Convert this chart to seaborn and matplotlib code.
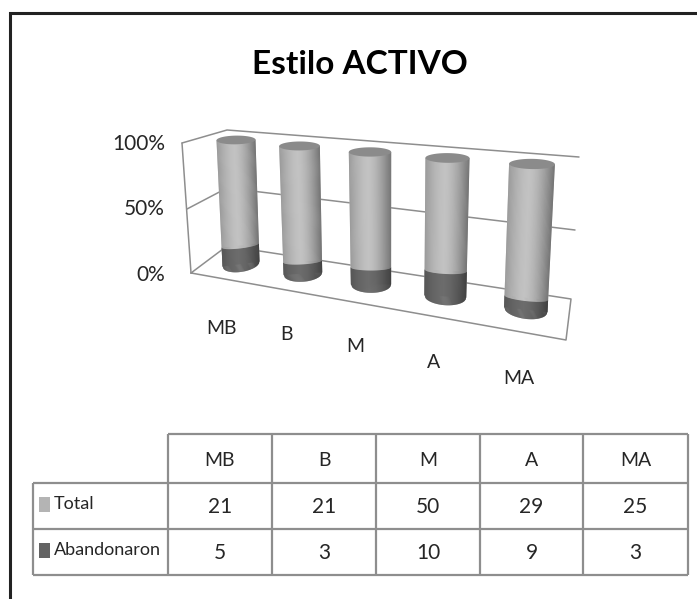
import numpy as np
import seaborn as sns
import matplotlib
matplotlib.use("Agg")
import matplotlib.pyplot as plt
from matplotlib.transforms import Transform

categories = ["MB", "B", "M", "A", "MA"]
total = [21, 21, 50, 29, 25]
abandonaron = [5, 3, 10, 9, 3]
pct_ticks = ["100%", "50%", "0%"]
series_names = ["Total", "Abandonaron"]

LIGHT = "#c6c6c6"
DARK = "#6e6e6e"
CAP = "#8b8b8b"
GRID = "#8e8e8e"
TXT = "#262626"

sns.set_theme(style="white")
plt.rcParams["font.family"] = ["Lato", "DejaVu Sans"]


# perspective of the fake 3d box: column number + height -> picture pixels
class Persp(Transform):
    input_dims = 2
    output_dims = 2

    def transform_non_affine(self, xy):
        xy = np.asarray(xy, dtype=float)
        j = np.round(xy[:, 0])
        u = (xy[:, 0] - j) / 0.4
        v = xy[:, 1] / 100
        f = v / (v + 1.35 * (1 - v))
        bx = 241 + 58.8 * j + 3.1 * j**2
        tx = 236 + 60 * j + 3.5 * j**2
        by = 264 + 9 * j + 0.6 * j**2
        ty = 140 + 6 * j
        bw = 18.5 + 0.8 * j
        tw = 19.5 + 0.85 * j
        px = bx + (tx - bx) * f + u * (bw + (tw - bw) * f)
        py = by + (ty - by) * f + u * (-2.5 + 1.25 * j) * (1 - 0.85 * f)
        return np.column_stack([px, py])


def shade(col, u):
    # darker to both sides, brightest a little left of the middle
    a = 0.02 + (0.2 if u < -0.1 else 0.4) * (abs(u + 0.1) / (0.9 if u < -0.1 else 1.1)) ** 1.6
    return tuple(c * (1 - a) for c in matplotlib.colors.to_rgb(col))


fig = plt.figure(figsize=(6.97, 5.99), dpi=100)
ax = fig.add_axes([0, 0, 1, 1])

share = [100 * a / (t + a) for t, a in zip(total, abandonaron)]
sns.barplot(x=categories, y=[100] * 5, color=LIGHT, saturation=1, width=0.8, ax=ax, zorder=2)
sns.barplot(x=categories, y=share, color=DARK, saturation=1, width=0.8, ax=ax, zorder=2.2)

tr = Persp() + ax.transData
for bars in ax.containers:
    for b in bars:
        b.set_transform(tr)
        b.set_clip_on(False)
        b.set_linewidth(0)

t = np.linspace(0, 2 * np.pi, 60)
edges = np.linspace(-0.4, 0.4, 41)
for j, s in enumerate(share):
    # strips across the cylinder, curved at the bottom and at the colour change
    for d0, d1 in zip(edges[:-1], edges[1:]):
        d2 = min(d1 + 0.01, 0.4)
        u = (d0 + d1) / 2 / 0.4
        arc0 = np.sqrt(max(1 - (d0 / 0.4) ** 2, 0))
        arc2 = np.sqrt(max(1 - (d2 / 0.4) ** 2, 0))
        xs = [j + d0, j + d2, j + d2, j + d0]
        ax.fill(xs, [-8.8 * arc0, -8.8 * arc2, s - 3 * arc2, s - 3 * arc0], color=shade(DARK, u),
                lw=0, transform=tr, zorder=2.4, clip_on=False)
        ax.fill(xs, [s - 3 * arc0, s - 3 * arc2, 100, 100], color=shade(LIGHT, u),
                lw=0, transform=tr, zorder=2.4, clip_on=False)
    ax.fill(j + 0.4 * np.cos(t), 100 + 2.6 * np.sin(t), color=CAP, lw=0, transform=tr,
            zorder=2.5, clip_on=False)

# box behind the cylinders
box = [
    ([182, 227, 579], [143, 130, 157]),
    ([187, 227, 575], [209, 188, 230]),
    ([191, 227, 571, 566, 191], [273, 246, 299, 340, 273]),
    ([182, 191], [143, 273]),
]
for bx_, by_ in box:
    ax.plot(bx_, by_, color=GRID, lw=1.1, zorder=1)

for lab, y in zip(pct_ticks, [144, 209, 275]):
    ax.text(165, y, lab, ha="right", va="center", fontsize=15, color=TXT)
for lab, x, y in zip(categories, [221, 286, 355, 434, 519], [328, 335, 347, 362, 379]):
    ax.text(x, y, lab, ha="center", va="center", fontsize=14, color=TXT)

ax.text(360, 65, "Estilo ACTIVO", ha="center", va="center", fontsize=24, fontweight="bold", color="black")

# table under the chart
col_x = [168, 272, 376, 480, 583, 688]
row_y = [434, 483, 529, 575]
ax.hlines(row_y[0], col_x[0], col_x[-1], color=GRID, lw=1.6)
ax.hlines(row_y[1:], 33, col_x[-1], color=GRID, lw=1.6)
ax.vlines(33, row_y[1], row_y[-1], color=GRID, lw=1.6)
ax.vlines(col_x, row_y[0], row_y[-1], color=GRID, lw=1.6)
for i, lab in enumerate(categories):
    cx = (col_x[i] + col_x[i + 1]) / 2
    ax.text(cx, 460, lab, ha="center", va="center", fontsize=14, color=TXT)
    ax.text(cx, 507, str(total[i]), ha="center", va="center", fontsize=15, color=TXT)
    ax.text(cx, 553, str(abandonaron[i]), ha="center", va="center", fontsize=15, color=TXT)
for name, col, y in zip(series_names, ["#b4b4b4", "#636363"], [504, 550]):
    ax.fill_between([39, 50], y - 7.5, y + 7.5, color=col, lw=0)
    ax.text(54, y, name, ha="left", va="center", fontsize=13, color=TXT)

# slide border
ax.plot([10, 10, 697], [599, 13, 13], color="#222222", lw=2.2, solid_joinstyle="miter")

ax.set_xlim(0, 697)
ax.set_ylim(599, 0)
ax.axis("off")
fig.savefig("out.png", dpi=100)
